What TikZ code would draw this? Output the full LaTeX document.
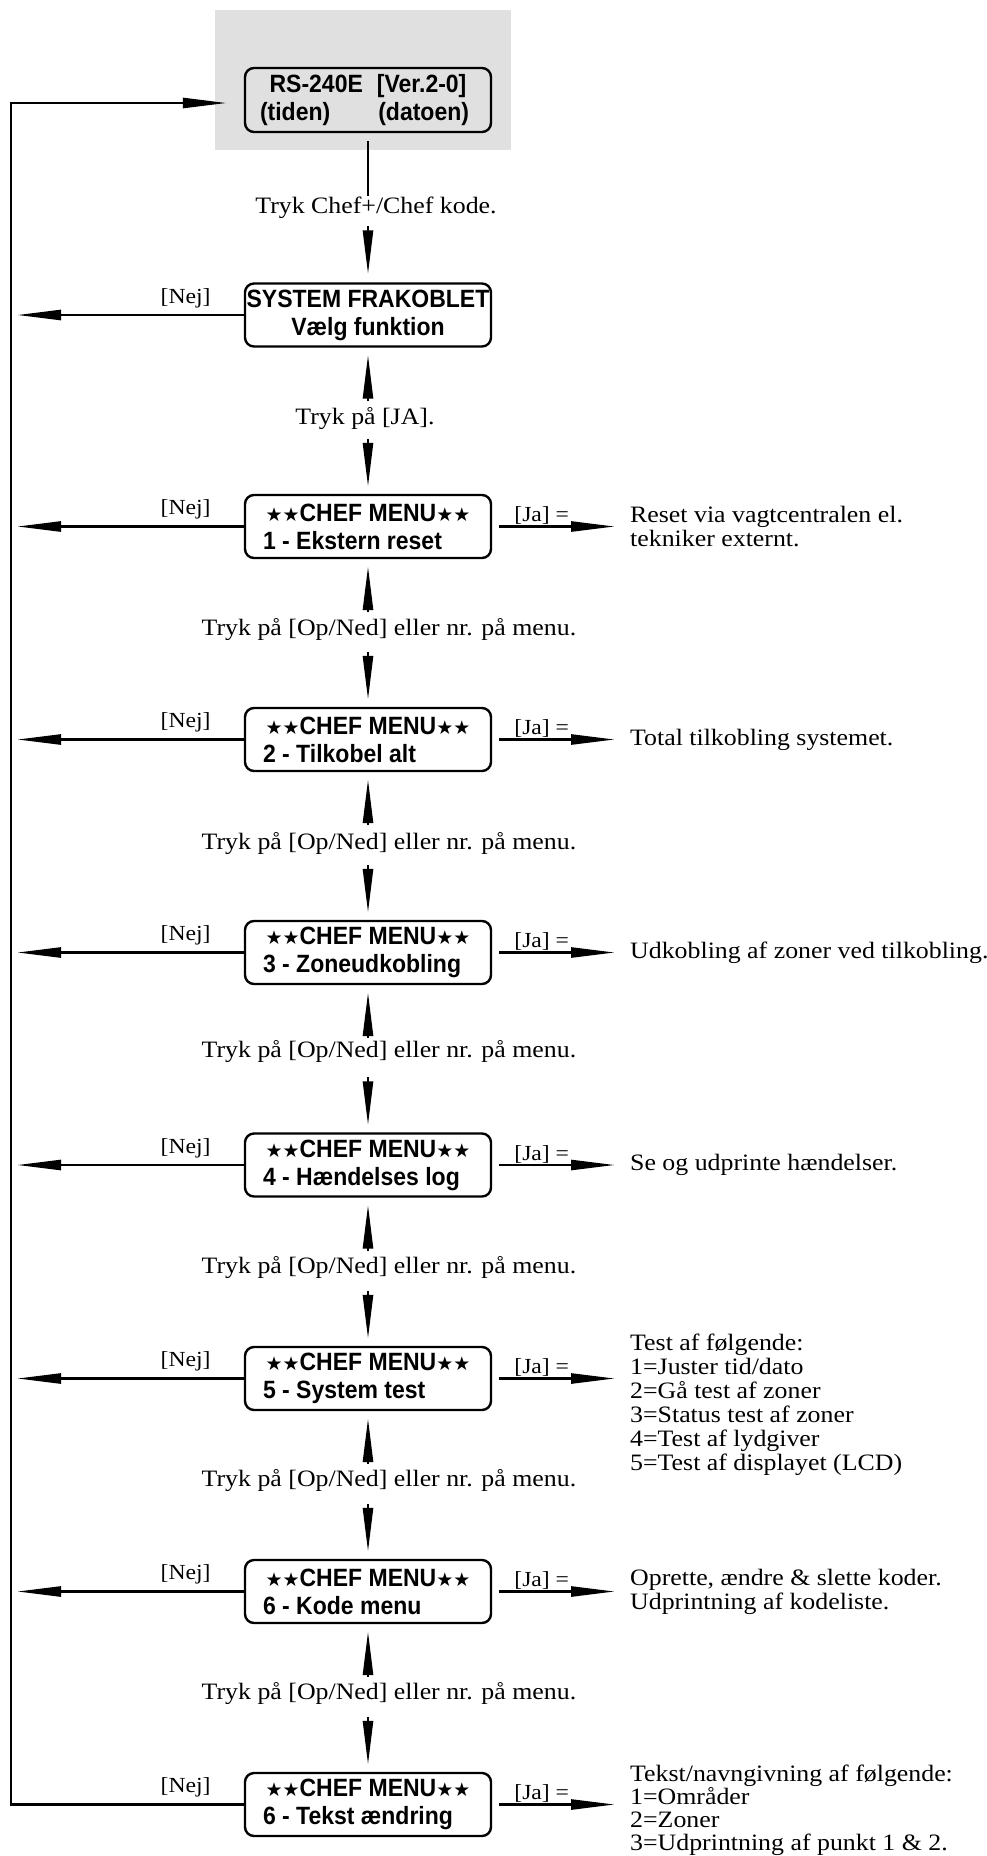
\documentclass[tikz,border=0pt]{standalone}
\usepackage{fontspec}
\setmainfont{Liberation Serif}[FakeStretch=1.1]
\newfontfamily\boxfont{Liberation Sans}[FakeStretch=0.92]
\newfontfamily\starfont{DejaVu Sans}
\usetikzlibrary{arrows.meta,calc}
\newcommand\mystar{{\starfont\fontsize{19}{19}\selectfont ★}}
\newcommand\chefline{\mystar\mystar CHEF MENU\mystar\mystar}
\newcommand\twolines[2]{\makebox[230pt][c]{#1}\\\makebox[230pt][l]{\hspace{10pt}#2}}
\tikzset{
 menubox/.style={draw, line width=2.4pt, rounded corners=9pt, minimum width=246pt, minimum height=63pt, inner sep=0pt, align=left, font=\boxfont\bfseries\fontsize{25}{28}\selectfont},
 lbl/.style={inner sep=0pt, font=\fontsize{23.5}{24}\selectfont},
 small/.style={inner sep=0pt, font=\fontsize{21.5}{24}\selectfont},
 desc/.style={inner sep=0pt, anchor=west, align=left, font=\fontsize{23.5}{24}\selectfont},
 conn/.style={line width=2.6pt},
 arr/.style={line width=2.6pt, -{Triangle[length=44pt,width=10pt]}},
}
\begin{document}
\begin{tikzpicture}[x=1pt,y=-1pt]
\useasboundingbox (0,0) rectangle (986,1856);
\fill[black!12] (215,10) rectangle (511,150);
\node[menubox, minimum height=64pt] (top) at (368,100) {\makebox[230pt][c]{RS-240E\hspace{14pt}[Ver.2-0]}\\\makebox[230pt][l]{\hspace{7pt}(tiden)\hfill(datoen)\hspace{14pt}}};
\node[menubox] (sys) at (368,315) {\makebox[240pt][c]{SYSTEM FRAKOBLET}\\\makebox[240pt][c]{Vælg funktion}};
\node[menubox] (b1) at (368,526.5) {\twolines{\chefline}{1 - Ekstern reset}};
\node[menubox] (b2) at (368,739.5) {\twolines{\chefline}{2 - Tilkobel alt}};
\node[menubox] (b3) at (368,952.5) {\twolines{\chefline}{3 - Zoneudkobling}};
\node[menubox] (b4) at (368,1165) {\twolines{\chefline}{4 - Hændelses log}};
\node[menubox] (b5) at (368,1378.5) {\twolines{\chefline}{5 - System test}};
\node[menubox] (b6) at (368,1591.5) {\twolines{\chefline}{6 - Kode menu}};
\node[menubox] (b7) at (368,1804.5) {\twolines{\chefline}{6 - Tekst ændring}};
% step labels
\node[lbl] (l0) at (376,208) {Tryk Chef+/Chef kode.};
\node[lbl] (l1) at (365,419) {Tryk på [JA].};
\node[lbl] (l2) at (389,630) {Tryk på [Op/Ned] eller nr. på menu.};
\node[lbl] (l3) at (389,844) {Tryk på [Op/Ned] eller nr. på menu.};
\node[lbl] (l4) at (389,1052) {Tryk på [Op/Ned] eller nr. på menu.};
\node[lbl] (l5) at (389,1268) {Tryk på [Op/Ned] eller nr. på menu.};
\node[lbl] (l6) at (389,1481) {Tryk på [Op/Ned] eller nr. på menu.};
\node[lbl] (l7) at (389,1694) {Tryk på [Op/Ned] eller nr. på menu.};
% vertical connectors
\draw[conn] ([yshift=-8pt]top.south) -- ([yshift=-63pt]top.south);
\draw[arr] ([yshift=56pt]sys.north) -- ([yshift=8pt]sys.north);
\foreach \a/\b in {sys/b1,b1/b2,b2/b3,b3/b4,b4/b5,b5/b6,b6/b7}{
  \draw[arr] ([yshift=-53pt]\a.south) -- ([yshift=-7pt]\a.south);
  \draw[arr] ([yshift=55pt]\b.north) -- ([yshift=7pt]\b.north);
}
% Nej arrows
\coordinate (nejx) at (17,0);
\coordinate (lx) at (11,0);
\foreach \n in {sys,b1,b2,b3,b4,b5,b6,b7}{
  \node[small, anchor=base east] (nej\n) at ([xshift=-33pt,yshift=12pt]\n.west) {[Nej]};
}
\foreach \n in {sys,b1,b2,b3,b4,b5,b6}{
  \draw[arr] (\n.west) -- (\n.west -| nejx);
}
\coordinate (topin) at ([yshift=-3pt]top.west);
\draw[arr] (b7.west) -- (b7.west -| lx) -- (topin -| lx) -- ([xshift=-17pt]topin);
% Ja arrows
\coordinate (jax) at (615,0);
\foreach \n in {b1,b2,b3,b4,b5,b6,b7}{
  \node[small, anchor=base west] (ja\n) at ([xshift=22pt,yshift=5pt]\n.east) {[Ja] =};
  \draw[arr] ([xshift=7pt]\n.east) -- (\n.east -| jax);
}
% descriptions
\node[desc] (d1) at (630,527) {Reset via vagtcentralen el.\\tekniker externt.};
\node[desc] (d2) at (630,739.5) {Total tilkobling systemet.};
\node[desc] (d3) at (630,952.5) {Udkobling af zoner ved tilkobling.};
\node[desc] (d4) at (630,1165) {Se og udprinte hændelser.};
\node[desc] (d5) at (630,1405) {Test af følgende:\\1=Juster tid/dato\\2=Gå test af zoner\\3=Status test af zoner\\4=Test af lydgiver\\5=Test af displayet (LCD)};
\node[desc] (d6) at (630,1592) {Oprette, ændre \& slette koder.\\Udprintning af kodeliste.};
\node[desc, font=\fontsize{23.5}{23}\selectfont] (d7) at (630,1810) {Tekst/navngivning af følgende:\\1=Områder\\2=Zoner\\3=Udprintning af punkt 1 \& 2.};
\end{tikzpicture}
\end{document}
